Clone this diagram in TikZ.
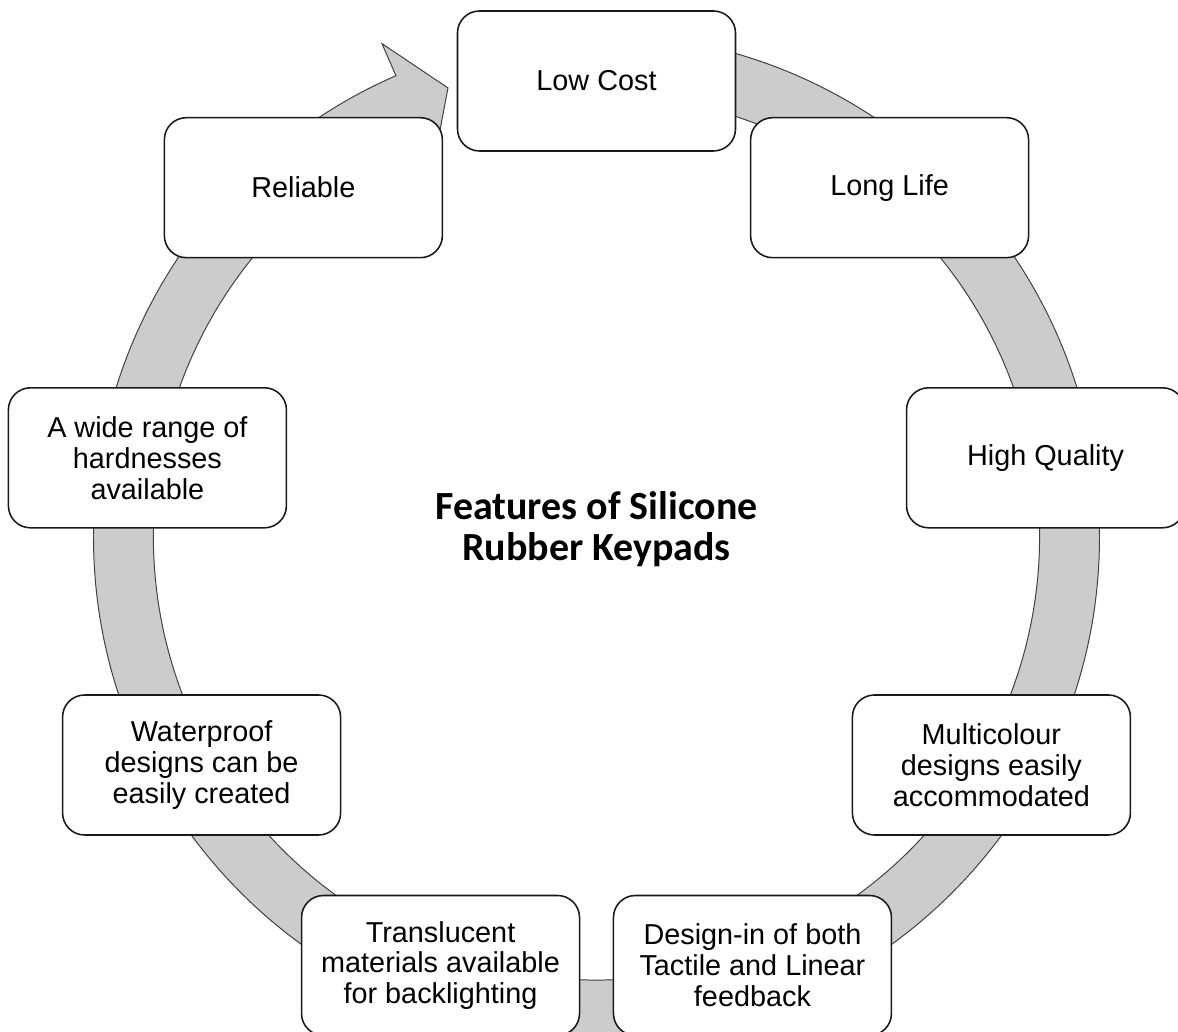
\documentclass[tikz,border=0pt]{standalone}
\usepackage{fontspec}
\setmainfont{Liberation Sans}
\newfontfamily\titlefont{Carlito}
\usetikzlibrary{positioning}
\definecolor{ringgray}{gray}{0.8}
\tikzset{
  feat/.style={draw=black!90,fill=white,line width=1.1pt,rounded corners=5.5mm,
    minimum width=69.5mm,minimum height=35mm,align=center,inner sep=1mm,
    font=\fontsize{20.5}{22}\selectfont},
  ring/.style={fill=ringgray,draw=black!75,line width=0.7pt}, % cycle arrow
  ttl/.style={font=\titlefont\bfseries\fontsize{28.4}{29.5}\selectfont,align=center},
}
\begin{document}
\begin{tikzpicture}[x=0.25mm,y=0.25mm]
  \useasboundingbox (-596.5,-495) rectangle (581.5,537);
  % circular arrow behind the boxes
  \def\rOut{503} \def\rIn{443} \def\rMid{473}
  \draw[ring] (90:\rOut) arc[start angle=90,end angle=-246.5,radius=\rOut]
    -- (-246.5:538) -- (-251.7:\rMid) -- (-246.5:408) -- (-246.5:\rIn)
    arc[start angle=-246.5,end angle=90,radius=\rIn] -- cycle;
  % feature boxes, clockwise from the top
  \foreach \k/\txt in {0/{Low Cost}, 1/{Long Life}, 2/{High Quality},
      3/{Multicolour\\designs easily\\accommodated},
      4/{Design-in of both\\Tactile and Linear\\feedback},
      5/{Translucent\\materials available\\for backlighting},
      6/{Waterproof\\designs can be\\easily created},
      7/{A wide range of\\hardnesses\\available}, 8/{Reliable}}{
    \node[feat] (feat\k) at ({90-40*\k}:456) {\txt};
  }
  \node[ttl] (title) at (0,8) {Features of Silicone\\Rubber Keypads};
\end{tikzpicture}
\end{document}
